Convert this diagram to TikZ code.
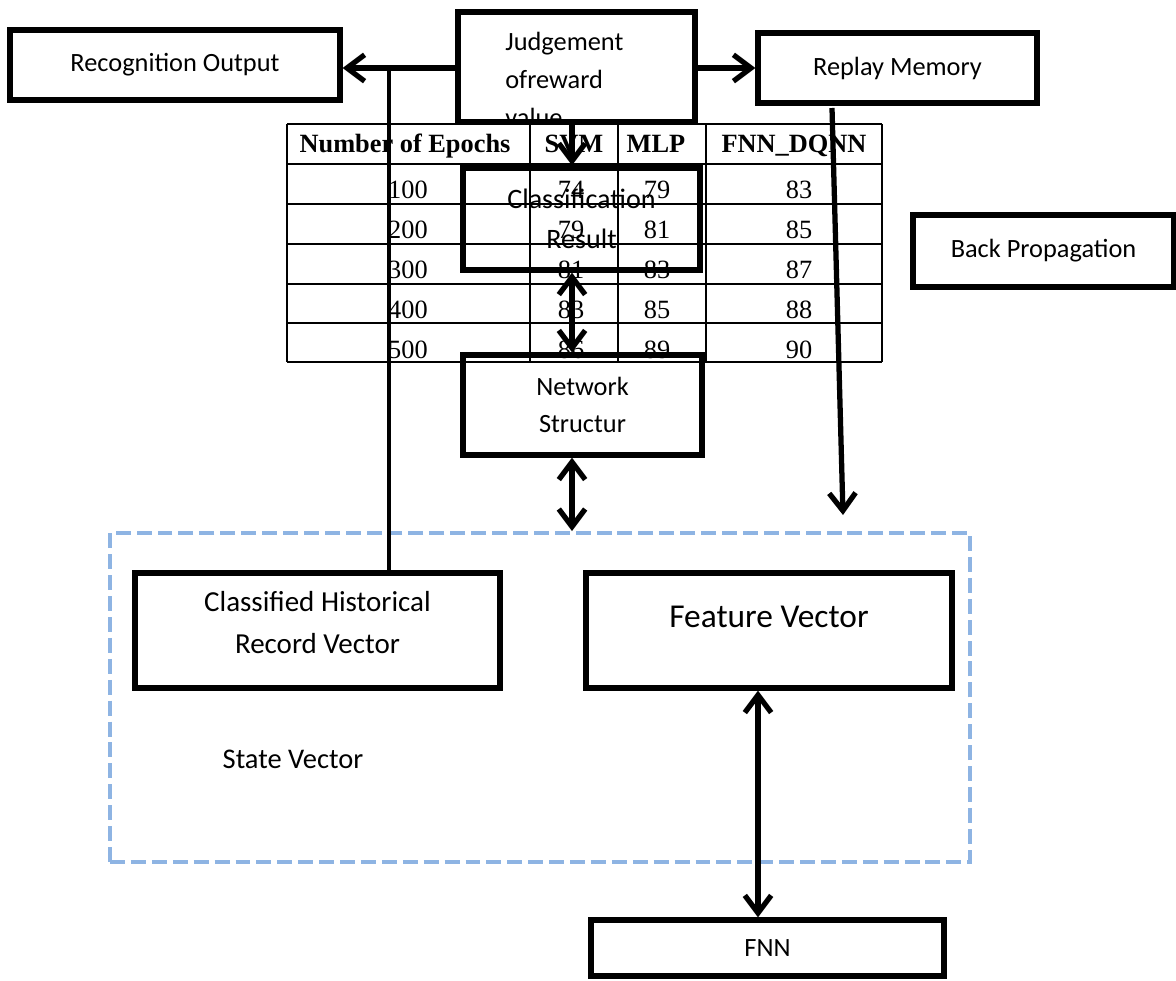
\documentclass[tikz,border=0pt]{standalone}
\usepackage{fontspec}
\setmainfont{Carlito}
\newfontfamily\tablefont{Liberation Serif}
\usetikzlibrary{arrows.meta}
\definecolor{stateblue}{HTML}{8EB4E3}

\begin{document}
\begin{tikzpicture}[
  x=0.02cm, y=-0.02cm,
  every node/.style={inner sep=0pt},
  box/.style={draw, line width=3pt, font=\fontsize{15}{18}\selectfont, align=center},
  flow/.style={line width=3pt, -{Straight Barb[length=10pt,width=15pt]}},
  dblflow/.style={line width=3pt,
   {Straight Barb[length=10pt,width=15pt]}-{Straight Barb[length=10pt,width=15pt]}},
  branch/.style={line width=2.2pt},
  tablegrid/.style={line width=0.8pt},
  cell/.style={font=\tablefont\fontsize{15}{18}\selectfont, anchor=base},
  headcell/.style={cell, font=\tablefont\bfseries\fontsize{15}{18}\selectfont},
  statebox/.style={draw=stateblue, line width=2.3pt, dash pattern=on 8.5pt off 3.4pt}
  ]
  \useasboundingbox (0,0) rectangle (1176,980);

  % results table
  \foreach \ty in {124,164,204,244,284,323,362}
    \draw[tablegrid] (287,\ty) -- (882,\ty);
  \foreach \tx in {287,530,618,706,882}
    \draw[tablegrid] (\tx,124) -- (\tx,362);
  \node[headcell] (hepochs) at (405,153) {Number of Epochs};
  \node[headcell] (hsvm) at (574,153) {SVM};
  \node[headcell] (hmlp) at (656,153) {MLP};
  \node[headcell] (hfnn) at (794,153) {FNN\_DQNN};
  \foreach \ep/\svm/\mlp/\fnn [count=\r] in
    {100/74/79/83, 200/79/81/85, 300/81/83/87, 400/83/85/88, 500/86/89/90} {
    \node[cell] (ep\r) at (408,{158+40*\r}) {\ep};
    \node[cell] (svm\r) at (571,{158+40*\r}) {\svm};
    \node[cell] (mlp\r) at (657,{158+40*\r}) {\mlp};
    \node[cell] (fnn\r) at (799,{158+40*\r}) {\fnn};
  }

  % boxes
  \node[box, minimum width=6.6cm, minimum height=1.4cm] (recog) at (175,65) {Recognition Output};
  \node[box, minimum width=4.74cm, minimum height=2.2cm] (judge) at (576.5,67) {};
  \begin{scope}
    \clip (judge.north west) rectangle (judge.south east);
    \node[font=\fontsize{15}{21.5}\selectfont, align=left, anchor=north west] (judgetext)
      at (505,32) {Judgement\\ofreward\\value};
  \end{scope}
  \node[box, minimum width=5.58cm, minimum height=1.4cm] (replay) at (897.5,68) {Replay Memory};
  \node[box, font=\fontsize{16}{23}\selectfont, minimum width=4.74cm, minimum height=2.04cm]
    (classres) at (581.5,219) {Classification\\Result};
  \node[box, font=\fontsize{15}{21}\selectfont, minimum width=4.78cm, minimum height=2cm]
    (netstruct) at (582.5,405) {Network\\Structur};
  \node[box, minimum width=5.22cm, minimum height=1.44cm] (backprop) at (1043.5,251) {Back Propagation};

  \node[statebox, minimum width=17.2cm, minimum height=6.58cm] (state) at (540,697.5) {};
  \node[box, font=\fontsize{16.5}{24}\selectfont, text depth=9pt, minimum width=7.3cm, minimum height=2.3cm]
    (histvec) at (317.5,630.5) {Classified Historical\\Record Vector};
  \node[box, font=\fontsize{19}{23}\selectfont, text depth=16pt, minimum width=7.32cm, minimum height=2.3cm]
    (featvec) at (769,630.5) {Feature Vector};
  \node[font=\fontsize{16.2}{18}\selectfont] (statelabel) at (293,759) {State Vector};
  \node[box, minimum width=7.06cm, minimum height=1.12cm] (fnn) at (767.5,948) {FNN};

  % connectors
  \coordinate (branchtop) at (389,68);
  \coordinate (midaxis) at (572,0);
  \coordinate (replaytail) at (832,108);
  \coordinate (replayhead) at (843,515);
  \coordinate (fnnaxis) at (758,0);
  \draw[flow] (judge.west |- branchtop) -- (recog.east |- branchtop);
  \draw[flow] (judge.east |- branchtop) -- (replay.west |- branchtop);
  \draw[branch] (branchtop) -- (histvec.north -| branchtop);
  \draw[flow] (judge.south -| midaxis) -- (classres.north -| midaxis);
  \draw[dblflow] (classres.south -| midaxis) -- (netstruct.north -| midaxis);
  \draw[dblflow] (netstruct.south -| midaxis) -- (state.north -| midaxis);
  \draw[flow] (replaytail) -- (replayhead);
  \draw[dblflow] (featvec.south -| fnnaxis) -- (fnn.north -| fnnaxis);
\end{tikzpicture}
\end{document}
